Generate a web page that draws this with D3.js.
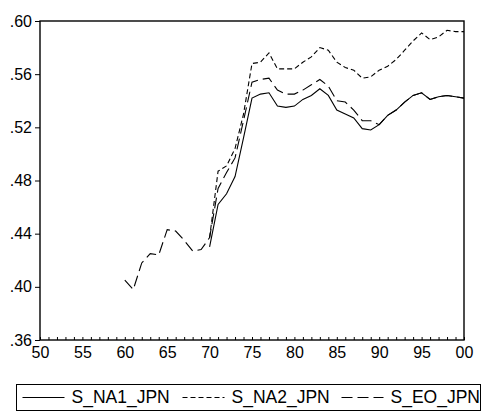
<!DOCTYPE html>
<html>
<head>
<meta charset="utf-8">
<script src="https://cdn.jsdelivr.net/npm/d3@7.9.0/dist/d3.min.js"></script>
<style>
  html, body { margin: 0; padding: 0; background: #fff; }
  svg { display: block; font-family: "Liberation Sans", Arial, sans-serif; }
</style>
</head>
<body>
<div id="chart"></div>
<script>
// years
const yearsEO = d3.range(1960, 2001);
const yearsNA = d3.range(1970, 2001);

// S_NA1_JPN, 1970-2000
const sNA1 = [0.430, 0.462, 0.470, 0.483, 0.512, 0.542, 0.545, 0.546, 0.536, 0.535,
  0.536, 0.541, 0.544, 0.549, 0.544, 0.533, 0.530, 0.527, 0.519, 0.518,
  0.522, 0.529, 0.533, 0.539, 0.544, 0.546, 0.541, 0.543, 0.544, 0.543, 0.542];

// S_NA2_JPN, 1970-2000
const sNA2 = [0.437, 0.487, 0.491, 0.504, 0.530, 0.568, 0.569, 0.576, 0.564, 0.564,
  0.564, 0.569, 0.573, 0.580, 0.578, 0.569, 0.565, 0.563, 0.557, 0.558,
  0.563, 0.566, 0.571, 0.578, 0.585, 0.591, 0.586, 0.588, 0.593, 0.592, 0.592];

// S_EO_JPN, 1960-2000
const sEO = [0.405, 0.398, 0.418, 0.425, 0.424, 0.443, 0.442, 0.435, 0.427, 0.428,
  0.437, 0.474, 0.486, 0.497, 0.525, 0.554, 0.556, 0.557, 0.548, 0.545,
  0.545, 0.548, 0.552, 0.556, 0.551, 0.540, 0.539, 0.533, 0.525, 0.525,
  0.522, 0.529, 0.533, 0.539, 0.544, 0.546, 0.541, 0.543, 0.544, 0.543, 0.542];

const yTicks = [0.36, 0.40, 0.44, 0.48, 0.52, 0.56, 0.60];
const xLabelTicks = d3.range(1950, 2001, 5);
const xMinorTicks = d3.range(1950, 2001, 1);

const seriesNames = ['S_NA1_JPN', 'S_NA2_JPN', 'S_EO_JPN'];
const dashes = [null, '5,3', '11,5'];

const width = 489, height = 412;
const plotL = 40, plotR = 464, plotT = 21, plotB = 340;

const svg = d3.select('#chart').append('svg')
  .attr('width', width).attr('height', height);

const x = d3.scaleLinear().domain([1950, 2000]).range([plotL, plotR]);
const y = d3.scaleLinear().domain([0.36, 0.60]).range([plotB, plotT]);

// frame
svg.append('rect')
  .attr('x', plotL).attr('y', plotT)
  .attr('width', plotR - plotL).attr('height', plotB - plotT)
  .attr('fill', 'none').attr('stroke', '#000').attr('stroke-width', 1.4);

// y axis (ticks outside)
const yAxis = d3.axisLeft(y).tickValues(yTicks).tickSize(5).tickPadding(3)
  .tickFormat(d => d3.format('.2f')(d).replace(/^0/, ''));
svg.append('g').attr('transform', `translate(${plotL},0)`).call(yAxis)
  .call(g => g.select('.domain').remove())
  .call(g => g.selectAll('text').attr('font-size', 16).attr('fill', '#000')
    .attr('font-family', '"Liberation Sans", Arial, sans-serif'));

// x axis minor ticks (inside)
const xAxisMinor = d3.axisTop(x).tickValues(xMinorTicks).tickSize(3).tickFormat('');
svg.append('g').attr('transform', `translate(0,${plotB})`).call(xAxisMinor)
  .call(g => g.select('.domain').remove());

const xAxis = d3.axisBottom(x).tickValues(xLabelTicks).tickSize(0).tickPadding(7)
  .tickFormat(d => String(d % 100).padStart(2, '0'));
svg.append('g').attr('transform', `translate(0,${plotB})`).call(xAxis)
  .call(g => g.select('.domain').remove())
  .call(g => g.selectAll('text').attr('font-size', 16).attr('fill', '#000')
    .attr('font-family', '"Liberation Sans", Arial, sans-serif'));

// lines
const line = d3.line().x(d => x(d[0])).y(d => y(d[1]));
const series = [
  yearsNA.map((yr, i) => [yr, sNA1[i]]),
  yearsNA.map((yr, i) => [yr, sNA2[i]]),
  yearsEO.map((yr, i) => [yr, sEO[i]])
];
svg.append('g').selectAll('path')
  .data(series)
  .join('path')
  .attr('d', line)
  .attr('fill', 'none')
  .attr('stroke', '#000')
  .attr('stroke-width', 1.1)
  .attr('stroke-dasharray', (d, i) => dashes[i]);

// legend
const legend = svg.append('g');
legend.append('rect')
  .attr('x', 16.5).attr('y', 384.5).attr('width', 464).attr('height', 26)
  .attr('fill', 'none').attr('stroke', '#000').attr('stroke-width', 1);

const legX = [22.5, 182.5, 341.5];
const legItems = legend.selectAll('g.item')
  .data(seriesNames)
  .join('g').attr('class', 'item');
legItems.append('line')
  .attr('x1', (d, i) => legX[i]).attr('x2', (d, i) => legX[i] + 42)
  .attr('y1', 397.5).attr('y2', 397.5)
  .attr('stroke', '#000').attr('stroke-width', 1.1)
  .attr('stroke-dasharray', (d, i) => dashes[i]);
legItems.append('text')
  .attr('x', (d, i) => legX[i] + 49)
  .attr('y', 403)
  .attr('font-size', 17.5)
  .text(d => d);
</script>
</body>
</html>
